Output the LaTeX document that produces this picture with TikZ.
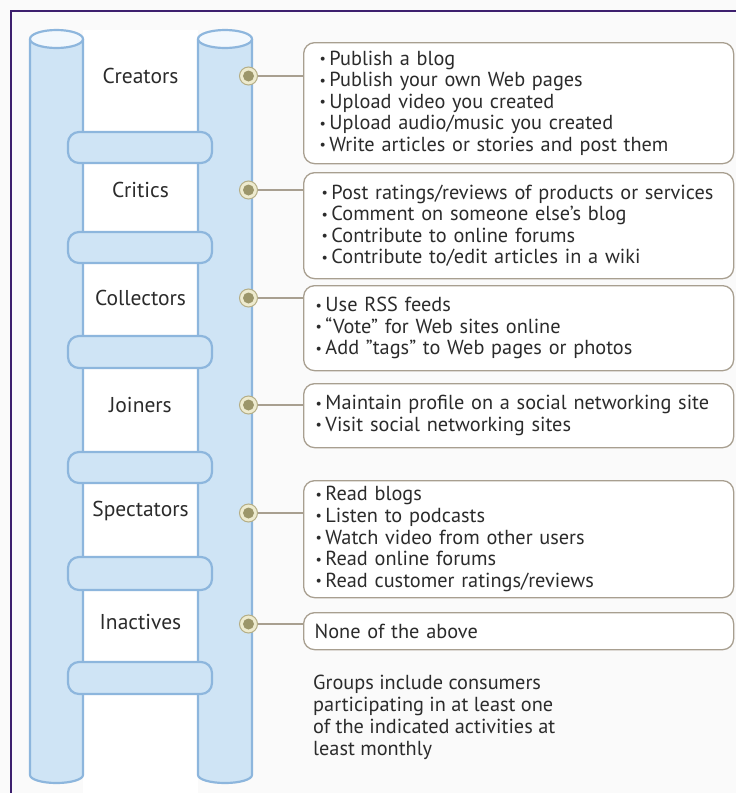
\documentclass[tikz,border=0pt]{standalone}
\usepackage{fontspec}
\setmainfont{PT Sans}
\definecolor{frame}{HTML}{3D1F6E}
\definecolor{pillarfill}{HTML}{CFE4F5}
\definecolor{pillarline}{HTML}{8DB6DD}
\definecolor{pillartop}{HTML}{F2F8FD}
\definecolor{boxline}{HTML}{A89F90}
\definecolor{dotring}{HTML}{EEEBCF}
\definecolor{dotline}{HTML}{B5AE86}
\definecolor{dotcore}{HTML}{9C966A}
\definecolor{txt}{HTML}{2B2B2B}
\definecolor{bg}{HTML}{FAFAFA}
\newcommand{\bt}{\raisebox{1.6pt}{\fontsize{14}{14}\selectfont\textbullet}\hspace{3.5pt}}
\begin{document}
\begin{tikzpicture}[x=1pt,y=-1pt,
  pillar/.style={fill=pillarfill, draw=pillarline, line width=2.2pt},
  rung/.style={fill=pillarfill, draw=pillarline, line width=2.2pt, rounded corners=11pt},
  lbl/.style={font=\fontsize{21.5}{24}\selectfont, text=txt},
  dot/.style={circle, minimum size=18pt, inner sep=0pt, fill=dotring, draw=dotline, line width=1pt,
    path picture={\fill[dotcore] (path picture bounding box.center) circle (5.5pt);}},
  infobox/.style={draw=boxline, line width=1.3pt, fill=white, rounded corners=11pt,
    anchor=north west, inner ysep=0pt, align=left, text=txt,
    font=\fontsize{20.3}{21.6}\selectfont},
  link/.style={draw=boxline, line width=1.3pt},
  note/.style={anchor=north west, align=left, text=txt, inner sep=0pt,
    font=\fontsize{20.3}{21.8}\selectfont}
]
\useasboundingbox (0,0) rectangle (736,793);
\fill[bg] (0,0) rectangle (736,793);
\fill[white] (83,30) rectangle (198,793);
% frame
\draw[frame, line width=2.4pt] (11,793) -- (11,11) -- (736,11);

% pillars
\foreach \cx/\r in {56.5/26.5, 225/27}{
  \draw[pillar] (\cx-\r,39) -- (\cx-\r,775)
     arc[start angle=180, end angle=360, x radius=\r pt, y radius=8pt]
     -- (\cx+\r,39);
  \draw[pillarline, line width=2.2pt, fill=pillartop] (\cx,39) ellipse [x radius=\r pt, y radius=9pt];
}

% rungs
\foreach \t/\b in {132/163, 232/263, 336/368, 452/483, 557/590, 662/694}{
  \draw[rung] (68,\t) rectangle (212,\b);
}

% labels
\node[lbl] (lcre) at (140.5,76) {Creators};
\node[lbl] (lcri) at (140.5,190) {Critics};
\node[lbl] (lcol) at (140.5,298) {Collectors};
\node[lbl] (ljoi) at (140.5,405) {Joiners};
\node[lbl] (lspe) at (140.5,511) {Spectators};
\node[lbl] (lina) at (140.5,622) {Inactives};

% boxes
\node[infobox, minimum width=430pt, minimum height=121pt, inner xsep=16pt, text width=398pt] (b1) at (303,42)
 {\bt Publish a blog\\ \bt Publish your own Web pages\\ \bt Upload video you created\\ \bt Upload audio/music you created\\ \bt Write articles or stories and post them};
\node[infobox, minimum width=430pt, minimum height=106pt, inner xsep=18pt, text width=394pt] (b2) at (303,172)
 {\mbox{\bt Post ratings/reviews of products or services}\\ \bt Comment on someone else’s blog\\ \bt Contribute to online forums\\ \bt Contribute to/edit articles in a wiki};
\node[infobox, minimum width=430pt, minimum height=85pt, inner xsep=12pt, text width=406pt] (b3) at (303,285)
 {\bt Use RSS feeds\\ \bt “Vote” for Web sites online\\ \bt Add ”tags” to Web pages or photos};
\node[infobox, minimum width=430pt, minimum height=64pt, inner xsep=12pt, text width=406pt] (b4) at (303,383)
 {\bt Maintain profile on a social networking site\\ \bt Visit social networking sites};
\node[infobox, minimum width=430pt, minimum height=117pt, inner xsep=12pt, text width=406pt] (b5) at (303,480)
 {\bt Read blogs\\ \bt Listen to podcasts\\ \bt Watch video from other users\\ \bt Read online forums\\ \bt Read customer ratings/reviews};
\node[infobox, minimum width=430pt, minimum height=37pt, inner xsep=11pt, text width=408pt] (b6) at (303,612)
 {None of the above};

% dots and links
\foreach \n/\y/\b in {c1/76/b1, c2/190/b2, c3/298/b3, c4/405/b4, c5/513/b5, c6/624/b6}{
  \node[dot] (\n) at (248.5,\y) {};
  \draw[link] (\n.east) -- (\n -| \b.west);
}

% note
\node[note] (nt) at (313,675)
 {Groups include consumers\\participating in at least one\\of the indicated activities at\\least monthly};
\end{tikzpicture}
\end{document}
